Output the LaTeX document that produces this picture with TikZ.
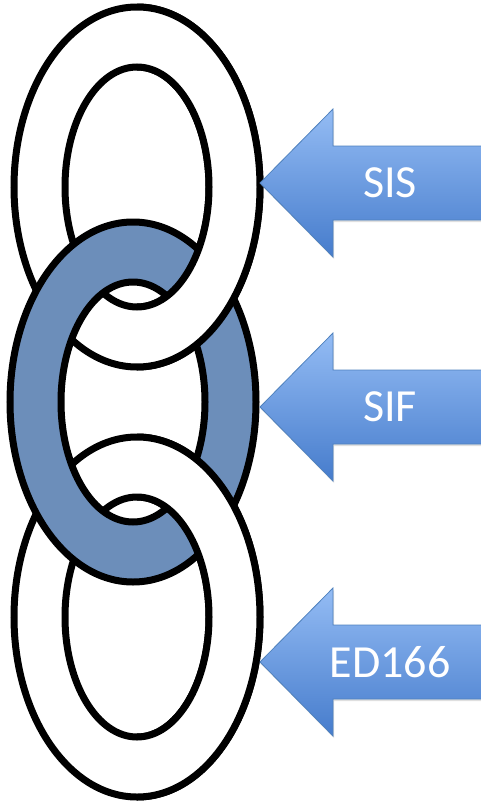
\documentclass[tikz,border=0pt]{standalone}
\usepackage{fontspec}
\setsansfont{Carlito}
\usetikzlibrary{shadows}

\definecolor{linkblue}{RGB}{108,142,186}
\definecolor{arrowtop}{RGB}{148,188,244}
\definecolor{arrowbot}{RGB}{70,124,204}
\definecolor{arrowedge}{RGB}{79,129,189}

\tikzset{
  link/.style={draw=black, line width=7pt, even odd rule},
  blockarrow/.style={draw=arrowedge, line width=0.8pt, top color=arrowtop, bottom color=arrowbot,
    drop shadow={opacity=0.25, shadow xshift=1pt, shadow yshift=-2pt}},
  tag/.style={text=white, font=\sffamily\fontsize{46}{46}\selectfont}
}

% one link of the chain: outer and inner ellipse, hole left open
\newcommand{\chainlink}[2]{%
  \path[link, fill=#2] #1 ellipse [x radius=123pt, y radius=180pt]
                       #1 ellipse [x radius=72pt, y radius=120pt];}

\begin{document}
\begin{tikzpicture}[x=1pt, y=-1pt]
\useasboundingbox (0,0) rectangle (481,806);

% outer links first, the middle one goes over them on the left
\chainlink{(137,187)}{white}
\chainlink{(137,617)}{white}
\chainlink{(133,402)}{linkblue}
% right halves of the outer links lie over the middle one
\begin{scope}
  \clip (137,0) rectangle (300,806);
  \chainlink{(137,187)}{white}
  \chainlink{(137,617)}{white}
\end{scope}

% arrows
\path[blockarrow] (260,183) -- (333,109) -- (333,146) -- (482,146) -- (482,220)
  -- (333,220) -- (333,257) -- cycle;
\node[tag] (sis) at (390,183) {SIS};

\path[blockarrow] (260,407) -- (333,333) -- (333,370) -- (482,370) -- (482,444)
  -- (333,444) -- (333,481) -- cycle;
\node[tag] (sif) at (390,407) {SIF};

\path[blockarrow] (260,662) -- (333,588) -- (333,625) -- (482,625) -- (482,699)
  -- (333,699) -- (333,736) -- cycle;
\node[tag] (ed) at (390,662) {ED166};
\end{tikzpicture}
\end{document}
